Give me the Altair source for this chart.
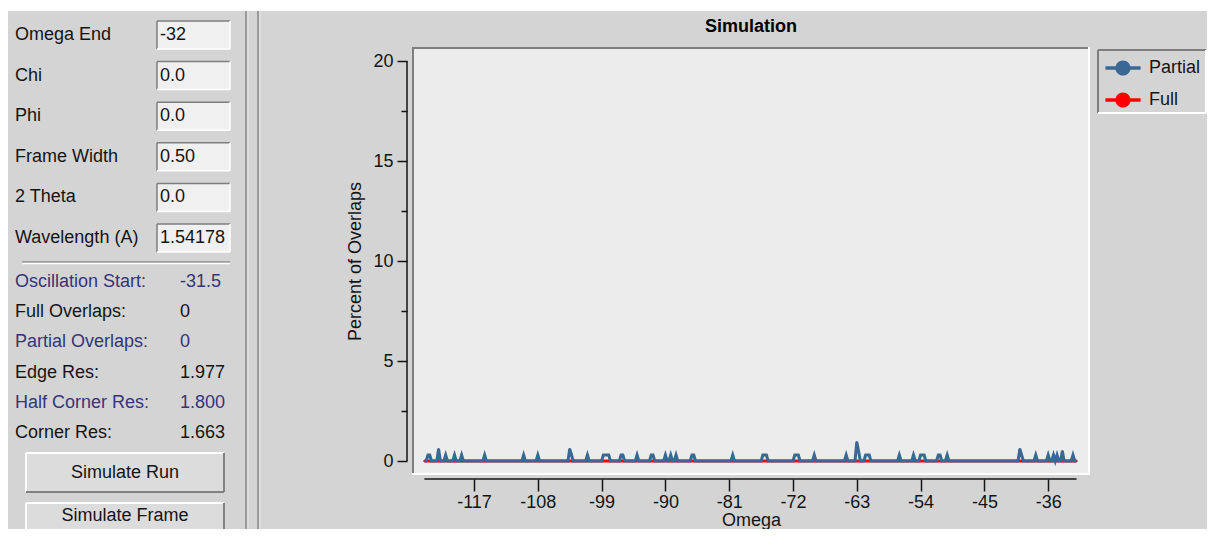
import altair as alt
import pandas as pd

# ---------------- values ----------------
omega_first, omega_last, omega_step = -124.0, -32.0, 0.25
omega = [omega_first + omega_step * i
         for i in range(int(round((omega_last - omega_first) / omega_step)) + 1)]

# Partial overlaps (%): the non-zero readings; every other omega reads 0
peak_omega = [-123.5, -123.25, -122.0, -121.0, -119.75, -118.75, -115.5, -110.0, -108.0,
              -103.5, -103.25, -101.0, -98.75, -98.5, -98.25, -98.0, -96.25, -96.0,
              -94.0, -92.0, -91.75, -90.0, -89.25, -88.5, -86.25, -86.0, -80.5,
              -76.25, -76.0, -75.75, -71.75, -71.5, -71.25, -69.0, -64.5, -63.0, -62.75,
              -61.75, -61.5, -61.25, -57.0, -55.0, -54.0, -53.75, -53.5, -51.5, -51.25,
              -50.25, -40.0, -39.75, -37.75, -36.0, -35.25, -34.75, -34.0, -32.5]
peak_value = [0.3, 0.3, 0.6, 0.3, 0.3, 0.3, 0.3, 0.3, 0.3,
              0.6, 0.3, 0.3, 0.3, 0.3, 0.3, 0.3, 0.3, 0.3,
              0.3, 0.3, 0.3, 0.3, 0.3, 0.3, 0.3, 0.3, 0.3,
              0.3, 0.3, 0.3, 0.3, 0.3, 0.3, 0.3, 0.3, 0.95, 0.5,
              0.3, 0.3, 0.3, 0.3, 0.3, 0.3, 0.3, 0.3, 0.3, 0.3,
              0.3, 0.6, 0.3, 0.3, 0.3, 0.3, 0.3, 0.5, 0.3]
# Full overlaps (%): every reading is 0
full_values = [0.0] * len(omega)

x_ticks = [-117, -108, -99, -90, -81, -72, -63, -54, -45, -36]
y_ticks = [0, 2.5, 5, 7.5, 10, 12.5, 15, 17.5, 20]
series_names = ["Partial", "Full"]
series_colors = ["#3a6794", "#ff0000"]
chart_title = ["Simulation"]

field_labels = ["Omega End", "Chi", "Phi", "Frame Width", "2 Theta", "Wavelength (A)"]
field_values = ["-32", "0.0", "0.0", "0.50", "0.0", "1.54178"]
stat_labels = ["Oscillation Start:", "Full Overlaps:", "Partial Overlaps:",
               "Edge Res:", "Half Corner Res:", "Corner Res:"]
stat_values = ["-31.5", "0", "0", "1.977", "1.800", "1.663"]
button_labels = ["Simulate Run", "Simulate Frame"]

# ---------------- styling ----------------
W, H = 678, 428
PAD = {"left": 404, "top": 39, "right": 117, "bottom": 54}
FONT = "Liberation Sans"
BG = "#d4d4d4"
PLOT_BG = "#ececec"
TXT = "#141414"
BLUE_TXT = "#34347a"
DARK = "#7e7e7e"
LIGHT = "#ffffff"

pmap = dict(zip(peak_omega, peak_value))
partial = [pmap.get(o, 0.0) for o in omega]
n = len(omega)
long = pd.DataFrame({
    "omega": omega + omega,
    "pct": partial + full_values,
    "series": ["Partial"] * n + ["Full"] * n,
})

xsc = alt.Scale(domain=[-125.75, -30.1], nice=False, zero=False)
ysc = alt.Scale(domain=[-0.7, 20.7], nice=False, zero=False)

xaxis = alt.Axis(values=x_ticks, labelExpr="'' + datum.value", domain=False, offset=4,
                 grid=False, tickSize=12, tickWidth=1.5, tickColor=TXT,
                 labelFont=FONT, labelFontSize=18, labelColor=TXT, labelPadding=2,
                 labelOverlap=False, labelFlush=False,
                 title="Omega", titleFont=FONT, titleFontSize=18, titleFontWeight="normal",
                 titleColor=TXT, titlePadding=0)
yaxis = alt.Axis(values=y_ticks,
                 labelExpr="datum.value % 5 === 0 ? '' + datum.value : ''",
                 domain=False, offset=5, grid=False,
                 tickSize={"condition": {"test": "datum.value % 5 === 0", "value": 10}, "value": 6},
                 tickWidth=1.5, tickColor=TXT,
                 labelFont=FONT, labelFontSize=18, labelColor=TXT, labelPadding=4,
                 labelOverlap=False,
                 title="Percent of Overlaps", titleFont=FONT, titleFontSize=18,
                 titleFontWeight="normal", titleColor=TXT, titlePadding=8)

SYMBOL = ("M-2.2,-0.22L2.2,-0.22L2.2,0.22L-2.2,0.22Z "
          "M-0.95,0A0.95,0.95 0 1,1 0.95,0A0.95,0.95 0 1,1 -0.95,0Z")
color = alt.Color("series:N",
                  scale=alt.Scale(domain=series_names, range=series_colors),
                  legend=alt.Legend(title=None, orient="none", direction="vertical",
                                    legendX=702, legendY=12, symbolType=SYMBOL,
                                    symbolSize=256, symbolStrokeWidth=0, symbolOpacity=1,
                                    labelFont=FONT, labelFontSize=18, labelColor=TXT,
                                    labelOffset=17, rowPadding=14, padding=0))

X = alt.X("omega:Q", scale=xsc, axis=xaxis)
Y = alt.Y("pct:Q", scale=ysc, axis=yaxis)
base = alt.Chart(long)
pts = base.mark_point(filled=True, size=4, opacity=1).encode(x=X, y=Y, color=color)
full_line = base.transform_filter("datum.series === 'Full'").mark_line(
    color=series_colors[1], strokeWidth=3).encode(x=X, y=Y)
partial_line = base.transform_filter("datum.series === 'Partial'").mark_line(
    color=series_colors[0], strokeWidth=3).encode(x=X, y=Y)

one = pd.DataFrame({"k": [0]})
y_axis_line = alt.Chart(one).mark_rule(color=TXT, strokeWidth=1.5).encode(
    x=alt.value(-5), y=alt.YDatum(0, scale=ysc, axis=yaxis), y2=alt.Y2Datum(20))
x_axis_line = alt.Chart(one).mark_rule(color=TXT, strokeWidth=1.5).encode(
    y=alt.value(H + 4), x=alt.XDatum(-124, scale=xsc, axis=xaxis), x2=alt.X2Datum(-32))

main = alt.layer(pts, full_line, partial_line, y_axis_line, x_axis_line)

title_txt = alt.Chart(pd.DataFrame({"t": chart_title})).mark_text(
    align="center", baseline="middle", font=FONT, fontSize=18, fontWeight="bold",
    color="#000000").encode(x=alt.value(W / 2), y=alt.value(-20), text="t:N")


def hrule(x1, x2, y, c, w=2):
    return alt.Chart(one).mark_rule(color=c, strokeWidth=w).encode(
        x=alt.value(x1), x2=alt.value(x2), y=alt.value(y))


def vrule(x, y1, y2, c, w=2):
    return alt.Chart(one).mark_rule(color=c, strokeWidth=w).encode(
        x=alt.value(x), y=alt.value(y1), y2=alt.value(y2))


TOTAL_W = PAD["left"] + W + PAD["right"]
TOTAL_H = PAD["top"] + H + PAD["bottom"]
decor = [
    # plot frame bevel
    hrule(0, W, 1, DARK), vrule(1, 0, H, DARK),
    hrule(0, W, H - 1, LIGHT), vrule(W - 1, 0, H, LIGHT),
    # legend box bevel
    hrule(686, 794, 3, DARK), vrule(686, 3, 66, DARK),
    hrule(686, 794, 66, LIGHT), vrule(794, 3, 66, LIGHT),
    # panel divider
    vrule(-166, -39, TOTAL_H, "#9a9a9a", 2), vrule(-164, -39, TOTAL_H, "#e6e6e6", 1),
    vrule(-154, -39, TOTAL_H, "#9a9a9a", 2), vrule(-152, -39, TOTAL_H, "#e6e6e6", 1),
    # separator in the left panel
    hrule(-390, -182, 215, "#8c8c8c", 1.5), hrule(-390, -182, 216.5, LIGHT, 1.5),
    # white strip at the very top
    hrule(-PAD["left"], TOTAL_W, -37.5, LIGHT, 3),
]

# ---- left panel: input fields ----
fields_df = pd.DataFrame({"label": field_labels, "value": field_values,
                          "row": list(range(len(field_labels)))})
fy = alt.Scale(domain=[0, len(field_labels) - 1], range=[-12, 191])
fbase = alt.Chart(fields_df).transform_calculate(top="datum.row - 0.345",
                                                 bot="datum.row + 0.345")
field_box = fbase.mark_rect(color="#f0f0f0").encode(
    x=alt.value(-255), x2=alt.value(-182),
    y=alt.Y("top:Q", scale=fy, axis=None), y2="bot:Q")
field_top = fbase.mark_rule(color=DARK, strokeWidth=1.5).encode(
    x=alt.value(-255), x2=alt.value(-182), y=alt.Y("top:Q", scale=fy, axis=None))
field_left = fbase.mark_rule(color=DARK, strokeWidth=1.5).encode(
    x=alt.value(-255), y=alt.Y("top:Q", scale=fy, axis=None), y2="bot:Q")
field_bot = fbase.mark_rule(color=LIGHT, strokeWidth=1.5).encode(
    x=alt.value(-255), x2=alt.value(-182), y=alt.Y("bot:Q", scale=fy, axis=None))
field_right = fbase.mark_rule(color=LIGHT, strokeWidth=1.5).encode(
    x=alt.value(-182), y=alt.Y("top:Q", scale=fy, axis=None), y2="bot:Q")
field_lbl = fbase.mark_text(align="left", baseline="middle", font=FONT, fontSize=18,
                            color=TXT).encode(
    x=alt.value(-397), y=alt.Y("row:Q", scale=fy, axis=None), text="label:N")
field_val = fbase.mark_text(align="left", baseline="middle", font=FONT, fontSize=18,
                            color=TXT, limit=69, ellipsis="").encode(
    x=alt.value(-252), y=alt.Y("row:Q", scale=fy, axis=None), text="value:N")

# ---- left panel: results ----
stats_df = pd.DataFrame({"label": stat_labels, "value": stat_values,
                         "row": list(range(len(stat_labels)))})
sy = alt.Scale(domain=[0, len(stat_labels) - 1], range=[235, 386])
scol = alt.condition("datum.row % 2 === 0", alt.value(BLUE_TXT), alt.value(TXT))
stat_lbl = alt.Chart(stats_df).mark_text(align="left", baseline="middle", font=FONT,
                                         fontSize=18).encode(
    x=alt.value(-397), y=alt.Y("row:Q", scale=sy, axis=None), text="label:N", color=scol)
stat_val = alt.Chart(stats_df).mark_text(align="left", baseline="middle", font=FONT,
                                         fontSize=18).encode(
    x=alt.value(-232), y=alt.Y("row:Q", scale=sy, axis=None), text="value:N", color=scol)

# ---- left panel: buttons ----
btn_df = pd.DataFrame({"label": button_labels, "row": list(range(len(button_labels)))})
by = alt.Scale(domain=[0, 1], range=[425.5, 475.5])
bbase = alt.Chart(btn_df).transform_calculate(top="datum.row - 0.39",
                                              bot="datum.row + 0.39",
                                              ty="datum.row * 0.86")
btn_box = bbase.mark_rect(color="#dcdcdc").encode(
    x=alt.value(-386), x2=alt.value(-188),
    y=alt.Y("top:Q", scale=by, axis=None), y2="bot:Q")
btn_top = bbase.mark_rule(color=LIGHT, strokeWidth=2).encode(
    x=alt.value(-386), x2=alt.value(-188), y=alt.Y("top:Q", scale=by, axis=None))
btn_left = bbase.mark_rule(color=LIGHT, strokeWidth=2).encode(
    x=alt.value(-386), y=alt.Y("top:Q", scale=by, axis=None), y2="bot:Q")
btn_bot = bbase.mark_rule(color="#808080", strokeWidth=2).encode(
    x=alt.value(-386), x2=alt.value(-188), y=alt.Y("bot:Q", scale=by, axis=None))
btn_right = bbase.mark_rule(color="#808080", strokeWidth=2).encode(
    x=alt.value(-188), y=alt.Y("top:Q", scale=by, axis=None), y2="bot:Q")
btn_txt = bbase.mark_text(align="center", baseline="middle", font=FONT, fontSize=18,
                          color=TXT).encode(
    x=alt.value(-287), y=alt.Y("ty:Q", scale=by, axis=None), text="label:N")

panel = [field_box, field_top, field_left, field_bot, field_right, field_lbl, field_val,
         stat_lbl, stat_val,
         btn_box, btn_top, btn_left, btn_bot, btn_right, btn_txt]

chart = alt.layer(main, title_txt, *decor, *panel).resolve_scale(
    x="independent", y="independent", color="independent"
).properties(
    width=W, height=H,
    autosize=alt.AutoSizeParams(type="none"),
    padding=PAD,
).configure(background=BG).configure_view(fill=PLOT_BG, stroke=None)

chart.save("out.html", embed_options={"renderer": "svg", "actions": False})
